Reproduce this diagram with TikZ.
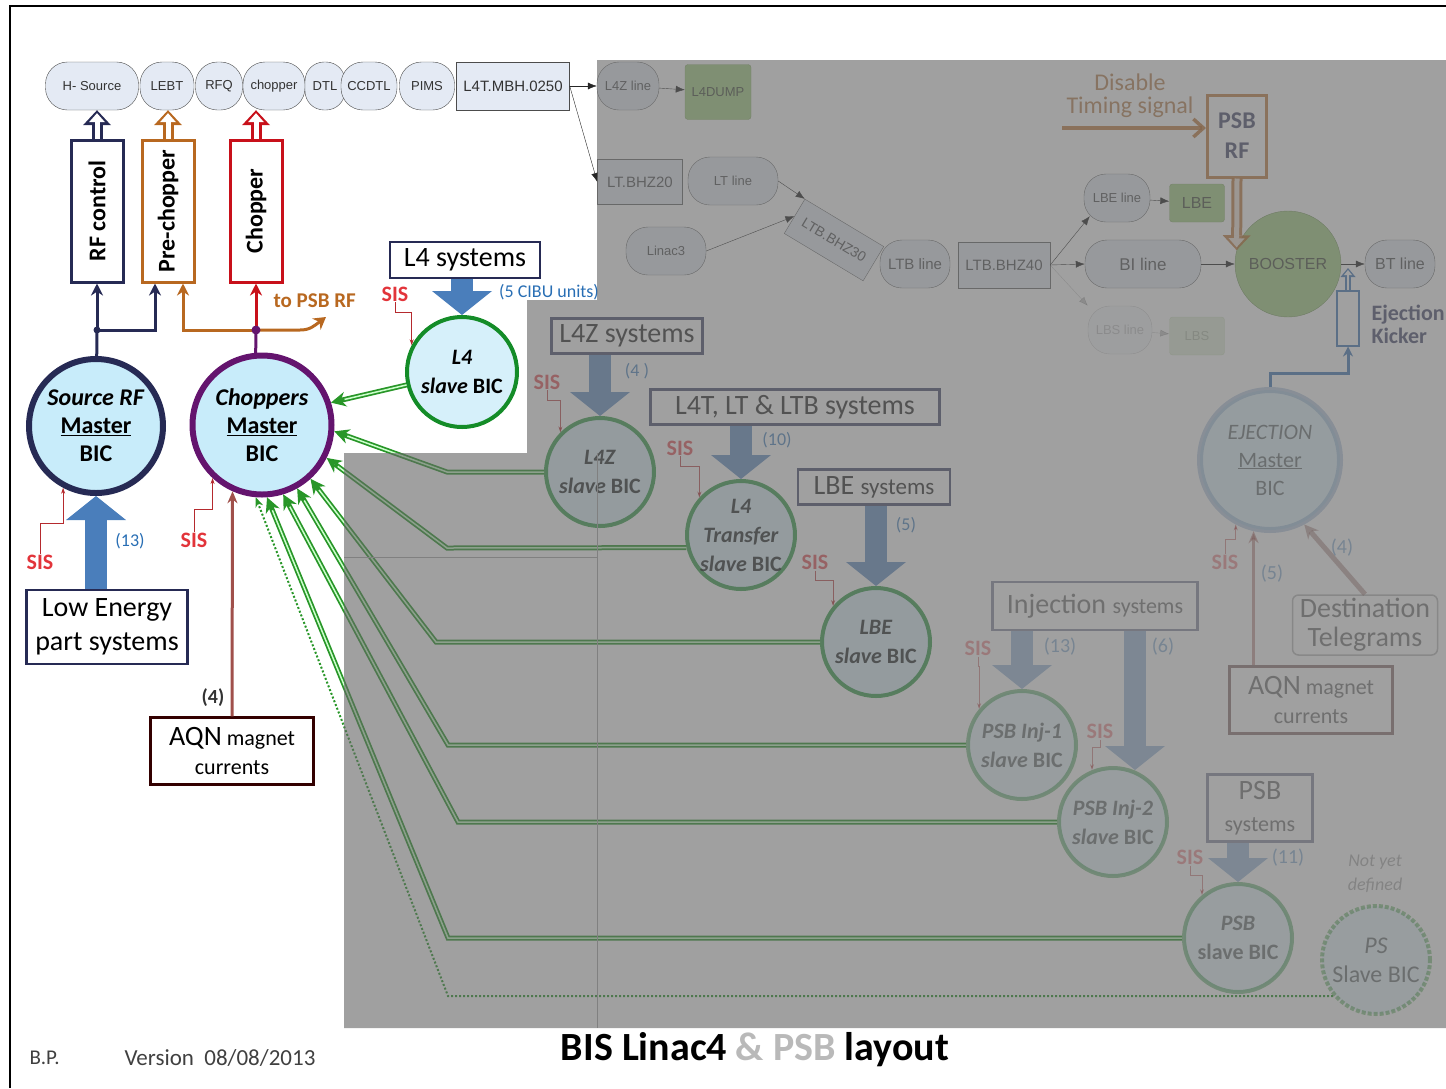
\documentclass[tikz,border=0pt]{standalone}
\usepackage{graphicx}
\usepackage{fontspec}
\setmainfont{Carlito}
\newfontfamily\arialfont{Liberation Sans}
\usetikzlibrary{arrows.meta, calc, positioning}

\definecolor{navyc}{RGB}{38,42,84}
\definecolor{purplec}{RGB}{100,20,110}
\definecolor{brownc}{RGB}{184,104,32}
\definecolor{redc}{RGB}{200,16,26}
\definecolor{sisred}{RGB}{226,52,58}
\definecolor{cntblue}{RGB}{40,110,180}
\definecolor{blockblue}{RGB}{74,126,187}
\definecolor{bicfill}{RGB}{200,236,250}
\definecolor{slavefill}{RGB}{214,240,250}
\definecolor{slavegreen}{RGB}{20,140,40}
\definecolor{linkgreen}{RGB}{40,150,40}
\definecolor{topfill}{RGB}{228,234,244}
\definecolor{aqnbrown}{RGB}{160,80,75}
\definecolor{boostgreen}{RGB}{150,200,110}

\newcommand{\fsz}[2]{\fontsize{#1}{#2}\selectfont}

\begin{document}
\begin{tikzpicture}
  [
    x=1pt, y=-1pt,
    >=Stealth,
    topnode/.style = {draw=gray!60!black, fill=topfill, rounded corners=22, minimum height=48, inner sep=1, text=black!80, font=\arialfont\fsz{13}{15}},
    topbox/.style = {draw=gray!60!black, fill=topfill, minimum height=46, inner sep=1, text=black!80, font=\arialfont\fsz{15}{17}},
    dumpbox/.style = {fill=boostgreen, draw=boostgreen!80!black, rounded corners=3, text=gray!40!black, font=\arialfont\fsz{13}{15}},
    beamarrow/.style = {draw=gray!30!black, thin, -{Latex[length=9,width=7]}},
    ctlbox/.style = {draw=#1, line width=3, fill=white, minimum width=52, minimum height=142, font=\fsz{24}{26}\bfseries},
    hollow/.style = {draw=white, line width=5, shorten >=3, -{Triangle[length=9,width=16,line width=0pt]}, preaction={draw=#1, line width=11, shorten >=0, -{Triangle[length=15,width=28,line width=0pt]}}},
    thinhollow/.style = {draw=white, line width=2.5, shorten >=2, -{Triangle[length=5,width=8,line width=0pt]}, preaction={draw=#1, line width=6.5, shorten >=0, -{Triangle[length=9,width=15,line width=0pt]}}},
    masterbic/.style = {circle, draw=#1, line width=6, fill=bicfill, inner sep=1, align=center, font=\fsz{24}{28}\bfseries},
    slavebic/.style = {circle, draw=slavegreen, line width=4, fill=slavefill, minimum size=108, inner sep=-4, align=center, font=\fsz{22}{29}\bfseries},
    sysbox/.style = {draw=navyc, line width=2.5, fill=white, minimum height=36, align=center, font=\fsz{28}{32}},
    blockarrow/.style = {draw=blockblue, line width=22, -{Triangle[length=24,width=60,line width=0pt]}},
    sis/.style = {text=sisred, font=\fsz{22}{24}\bfseries, inner sep=1},
    sislink/.style = {draw=sisred!80!black, line width=0.7, -{Stealth[length=6,width=4]}},
    count/.style = {text=cntblue, font=\fsz{18}{20}, inner sep=1},
    greenlink/.style = {draw=linkgreen, line width=5, -{Stealth[length=15,width=15,line width=0pt]}, postaction={draw=green!20!white, line width=1.5, shorten >=14, -}},
  ]

  \useasboundingbox (0,0) rectangle (1446,1088);

  % beam line
  \node[topnode, minimum width=93] (hsrc) at (92,86) {H- Source};
  \node[topnode, minimum width=54] (lebt) at (167,86) {LEBT};
  \node[topnode, minimum width=47] (rfq) at (219,86) {RFQ};
  \node[topnode, minimum width=62] (chop) at (274,86) {chopper};
  \node[topnode, minimum width=40, rounded corners=19] (dtl) at (325,86) {DTL};
  \node[topnode, minimum width=56] (ccdtl) at (369,86) {CCDTL};
  \node[topnode, minimum width=55] (pims) at (427,86) {PIMS};
  \node[topbox, minimum width=113, minimum height=48] (mbh) at (513,86) {L4T.MBH.0250};
  \begin{scope}[opacity=0.8]
    \node[topnode, minimum width=62] (l4zline) at (628,86) {L4Z line};
    \node[dumpbox, minimum width=66, minimum height=55] (l4dump) at (718,92) {L4DUMP};
    \node[topbox, minimum width=85, minimum height=45] (ltbhz20) at (640,182) {LT.BHZ20};
    \node[topnode, minimum width=90] (ltline) at (733,181) {LT line};
    \node[topnode, minimum width=80] (linac3) at (666,251) {Linac3};
    \node[topbox, minimum width=92, minimum height=40, rotate=-31, font=\arialfont\fsz{14}{16}] (ltbhz30) at (834,240) {LTB.BHZ30};
    \node[topnode, minimum width=70, font=\arialfont\fsz{15}{17}] (ltbline) at (915,264) {LTB line};
    \node[topbox, minimum width=92] (ltbhz40) at (1004,265) {LTB.BHZ40};
    \node[topnode, minimum width=66] (lbeline) at (1117,198) {LBE line};
    \node[dumpbox, minimum width=55, minimum height=38, font=\arialfont\fsz{16}{18}] (lbe) at (1197,203) {LBE};
    \node[topnode, minimum width=116, font=\arialfont\fsz{17}{19}] (biline) at (1143,264) {BI line};
    \node[circle, fill=boostgreen, draw=boostgreen!70!black, minimum size=106, text=gray!40!black, font=\arialfont\fsz{16}{18}] (booster) at (1288,264) {BOOSTER};
    \node[topnode, minimum width=70, font=\arialfont\fsz{16}{18}] (btline) at (1400,264) {BT line};
  \end{scope}
  \begin{scope}[opacity=0.25]
    \node[topnode, minimum width=64] (lbsline) at (1120,330) {LBS line};
    \node[dumpbox, minimum width=55, minimum height=38] (lbs) at (1197,336) {LBS};
    \draw[beamarrow] (ltbhz40.east) -- (lbsline.north west);
    \draw[beamarrow] (lbsline) -- (lbs);
  \end{scope}

  \draw[beamarrow] (mbh) -- (l4zline);
  \draw[beamarrow] (l4zline) -- (l4dump);
  \draw[beamarrow] (mbh.east) -- (ltbhz20.west);
  \draw[beamarrow] (ltline.east) -- (ltbhz30.north west);
  \draw[beamarrow] (linac3.east) -- (ltbhz30.west);
  \draw[beamarrow] (ltbhz40.east) -- ($(lbeline.south west)+(6,-6)$);
  \draw[beamarrow] (ltbhz40.east) -- (biline.west);
  \draw[beamarrow] (lbeline) -- (lbe);
  \draw[beamarrow] (biline) -- (booster);
  \draw[beamarrow] (booster) -- (btline);

  % PSB RF and ejection kicker
  \begin{scope}[opacity=0.8]
    \node[draw=brownc, line width=3, fill=white, minimum width=59, minimum height=82, align=center, text=navyc, font=\fsz{24}{30}\bfseries] (psbrf) at (1237,136) {PSB\\RF};
    \draw[hollow=brownc] (psbrf.south) -- (booster.165);
    \node[text=brownc!80!gray, align=center, font=\fsz{24}{23}] (disable) at (1130,96) {Disable\\Timing signal};
    \coordinate (tsig) at (1062,128);
    \draw[brownc, line width=3.5, -{Straight Barb[length=10,width=18]}] (tsig) -- (tsig -| psbrf.west);
  \end{scope}
  \node[draw=blockblue, line width=2, fill=white, minimum width=22, minimum height=55] (ejk) at (1348,318) {};
  \coordinate (kickend) at (1348,268);
  \draw[thinhollow=blockblue] (ejk.north) -- (kickend);
  \node[anchor=west, align=left, text=navyc!80, font=\fsz{22}{23}\bfseries] (ejktext) at (1368,324) {Ejection\\Kicker};

  % control boxes
  \node[ctlbox=navyc] (rfctl) at (97,211) {\rotatebox{90}{RF control}};
  \node[ctlbox=brownc] (prechop) at (168,211) {\rotatebox{90}{Pre-chopper}};
  \node[ctlbox=redc] (chopbox) at (256,211) {\rotatebox{90}{Chopper}};
  \draw[hollow=navyc] (rfctl.north) -- (rfctl.north |- hsrc.south);
  \draw[hollow=brownc] (prechop.north) -- (prechop.north |- lebt.south);
  \draw[hollow=redc] (chopbox.north) -- (chopbox.north |- chop.south);

  % master BICs
  \node[masterbic=navyc, minimum size=134] (srcbic) at (96,426) {\textit{Source RF}\\\underline{Master}\\BIC};
  \node[masterbic=purplec, minimum size=139] (choppers) at (262,425) {\textit{Choppers}\\\underline{Master}\\BIC};

  \coordinate (srcjoin) at (97,330);
  \draw[navyc, line width=3] (srcbic) -- (srcjoin);
  \draw[navyc, line width=3, -{Stealth[length=12,width=12]}] (srcjoin) -- (rfctl);
  \draw[navyc, line width=3, -{Stealth[length=12,width=12]}] (srcjoin) -| ($(prechop.south)+(-13,0)$);
  \fill[navyc] (srcjoin) circle (3.5);

  \coordinate (chopjoin) at (256,330);
  \coordinate (topsbrf) at (326,317);
  \draw[purplec, line width=3] (choppers.95) -- (chopjoin);
  \draw[redc, line width=3, -{Stealth[length=12,width=12]}] (chopjoin) -- (chopbox);
  \draw[brownc, line width=3, -{Stealth[length=12,width=12]}] (chopjoin) -| ($(prechop.south)+(15,0)$);
  \draw[brownc, line width=3, -{Stealth[length=12,width=14]}] (chopjoin) -- (300,330) .. controls (310,330) and (314,326) .. (topsbrf);
  \fill[purplec] (chopjoin) circle (4.5);
  \node[anchor=west, text=brownc, font=\fsz{21}{24}\bfseries] (topsbrflbl) at (270,301) {to PSB RF};

  % L4 systems
  \node[sysbox, minimum width=150] (l4sys) at (465,260) {L4 systems};
  \node[slavebic, minimum size=110] (l4bic) at (462,372) {\textit{L4}\\\textit{slave} BIC};
  \draw[blockarrow] (l4bic.north |- l4sys.south) -- (l4bic.north);
  \node[count, anchor=west] (cibu) at (498,292) {(5 CIBU units)};
  \node[sis] (sisa) at (395,294) {SIS};
  \draw[sislink] (sisa.south) -- ++(0,10) -| (l4bic.152);

  % low energy part
  \node[sysbox, minimum width=161, minimum height=74, font=\fsz{28}{34}] (lowen) at (107,627) {Low Energy\\part systems};
  \draw[blockarrow] (srcbic.south |- lowen.north) -- (srcbic.south);
  \node[count] (n13a) at (130,541) {(13)};
  \node[sis] (sisb) at (40,562) {SIS};
  \draw[sislink] (sisb.north) -- ++(0,-30) -| (srcbic.-118);
  \node[sis] (sisc) at (194,540) {SIS};
  \draw[sislink] (sisc.north) -- ++(0,-22) -| (choppers.-133);

  \node[sysbox, draw=black!80!red, minimum width=163, minimum height=67, font=\fsz{22}{29}] (aqn) at (232,751) {{\fsz{28}{30}AQN} magnet\\currents};
  \draw[aqnbrown, line width=3, -{Stealth[length=12,width=10]}] (aqn.north) -- (choppers.-114);
  \node[text=black!80, font=\fsz{20}{22}\bfseries] (n4a) at (213,698) {(4)};

  % slave BICs under the grey
  \begin{scope}[opacity=0.8]
    \node[sysbox, minimum width=151, minimum height=35] (l4zsys) at (627,336) {L4Z systems};
    \node[slavebic] (l4zbic) at (600,472) {\textit{L4Z}\\\textit{slave} BIC};
    \draw[blockarrow] (l4zbic.north |- l4zsys.south) -- (l4zbic.north);
    \node[count] (n4b) at (637,371) {(4 )};
    \node[sis] (sisd) at (547,382) {SIS};
    \draw[sislink] (sisd.south) -- ++(0,10) -| (l4zbic.135);

    \node[sysbox, minimum width=289, minimum height=35] (l4tsys) at (795,407) {L4T, LT \& LTB systems};
    \node[slavebic] (l4tbic) at (741,535) {\textit{L4}\\\textit{Transfer}\\\textit{slave} BIC};
    \draw[blockarrow] (l4tbic.north |- l4tsys.south) -- (l4tbic.north);
    \node[count] (n10) at (777,440) {(10)};
    \node[sis] (sise) at (680,448) {SIS};
    \draw[sislink] (sise.south) -- ++(0,10) -| (l4tbic.138);

    \node[sysbox, minimum width=152, minimum height=35] (lbesys) at (874,487) {LBE {\fsz{23}{28}systems}};
    \node[slavebic] (lbebic) at (876,642) {\textit{LBE}\\\textit{slave} BIC};
    \draw[blockarrow] (lbebic.north |- lbesys.south) -- (lbebic.north);
    \node[count] (n5a) at (906,525) {(5)};
    \node[sis] (sisf) at (815,562) {SIS};
    \draw[sislink] (sisf.south) -- ++(0,10) -| (lbebic.140);
  \end{scope}

  % PSB part, faded
  \begin{scope}[opacity=0.5]
    \node[sysbox, minimum width=205, minimum height=48] (injsys) at (1095,606) {Injection {\fsz{22}{28}systems}};
    \node[slavebic] (inj1bic) at (1022,745) {\textit{PSB Inj-1}\\\textit{slave} BIC};
    \node[slavebic] (inj2bic) at (1113,822) {\textit{PSB Inj-2}\\\textit{slave} BIC};
    \draw[blockarrow] (inj1bic.north |- injsys.south) -- (inj1bic.north);
    \draw[blockarrow] ($(inj2bic.north |- injsys.south)+(22,0)$) -- ($(inj2bic.north)+(22,4)$);
    \node[count, font=\fsz{20}{22}] (n13b) at (1060,647) {(13)};
    \node[count, font=\fsz{20}{22}] (n6) at (1163,647) {(6)};
    \node[sis] (sisg) at (978,648) {SIS};
    \draw[sislink] (sisg.south) -- ++(0,10) -| (inj1bic.140);
    \node[sis] (sish) at (1100,731) {SIS};
    \draw[sislink] (sish.south) -- ++(0,8) -| (inj2bic.112);

    \node[sysbox, minimum width=105, minimum height=67, font=\fsz{28}{32}] (psbsys) at (1260,808) {PSB\\{\fsz{22}{28}systems}};
    \node[slavebic] (psbbic) at (1238,938) {\textit{PSB}\\slave BIC};
    \draw[blockarrow] (psbbic.north |- psbsys.south) -- (psbbic.north);
    \node[count, font=\fsz{20}{22}] (n11) at (1288,858) {(11)};
    \node[sis] (sisi) at (1190,857) {SIS};
    \draw[sislink] (sisi.south) -- ++(0,10) -| (psbbic.130);

    \node[slavebic, draw=linkgreen, dotted, line width=4, font=\fsz{24}{29}] (psbic) at (1376,960) {\textit{PS}\\Slave BIC};
    \node[align=center, text=black!60, font=\fsz{18}{24}\itshape] (notyet) at (1375,874) {Not yet\\defined};

    \node[masterbic=blockblue!70, minimum size=140, font=\fsz{22}{28}] (ejbic) at (1270,460) {\textit{EJECTION}\\\underline{Master}\\BIC};
    \node[draw=gray, line width=1.5, rounded corners=6, fill=white, minimum width=145, minimum height=60, align=center, font=\fsz{28}{29}] (dest) at (1365,625) {Destination\\Telegrams};
    \node[sysbox, draw=black!80!red, minimum width=163, minimum height=67, font=\fsz{22}{29}] (aqnr) at (1311,700) {{\fsz{28}{30}AQN} magnet\\currents};
    \draw[aqnbrown, line width=3, -{Stealth[length=12,width=10]}] (ejbic.-103 |- aqnr.north) -- (ejbic.-103);
    \draw[aqnbrown!60!gray, line width=5, -{Stealth[length=14,width=14,line width=0pt]}] (dest.north) -- (ejbic.-62);
    \node[count, font=\fsz{20}{22}] (n4c) at (1342,548) {(4)};
    \node[count, font=\fsz{20}{22}] (n5b) at (1272,574) {(5)};
    \node[sis] (sisj) at (1225,562) {SIS};
    \draw[sislink] (sisj.north) -- ++(0,-14) -| (ejbic.-118);
  \end{scope}
  \draw[blockblue, line width=3, -{Stealth[length=10,width=10]}] (ejbic.north) -- ++(0,-14) -| (ejk.south);

  % links to the choppers master
  \draw[greenlink] (l4bic) -- (choppers.18);
  \foreach \tgt/\tan/\ang/\kx/\ky in {l4zbic/180/-5/447/472, l4tbic/193/-27/447/548, lbebic/180/-48/436/642, inj1bic/180/-61/448/745, inj2bic/180/-73/458/822, psbbic/180/-86/448/938}
    \draw[greenlink] (\tgt.\tan) -- (\kx,\ky) -- (choppers.\ang);
  \draw[linkgreen, dotted, line width=2, -{Stealth[length=10,width=8]}] (psbic.220) -- (448,996) -- (choppers.-95);

  % grey cover
  \fill[black!60, fill opacity=0.62] (597,60) -- (1446,60) -- (1446,1028) -- (344,1028) -- (344,453) -- (527,453) -- (527,300) -- (597,300) -- cycle;
  \draw[black!50, line width=0.8] (597,453) -- (597,1028);
  \draw[black!50, line width=0.8] (344,557) -- (597,557);

  % frame and footer
  \draw[line width=2.5] (10,1088) -- (10,6) -- (1446,6);
  \node[anchor=west, text=black!75, font=\fsz{21}{22}] (author) at (26,1058) {B.P.};
  \node[anchor=west, text=black!75, font=\fsz{23}{24}] (version) at (121,1058) {Version~~08/08/2013};
  \node[font=\fsz{40}{44}\bfseries] (title) at (755,1050) {BIS Linac4 \textcolor{gray!55}{\& PSB} layout};

\end{tikzpicture}
\end{document}
